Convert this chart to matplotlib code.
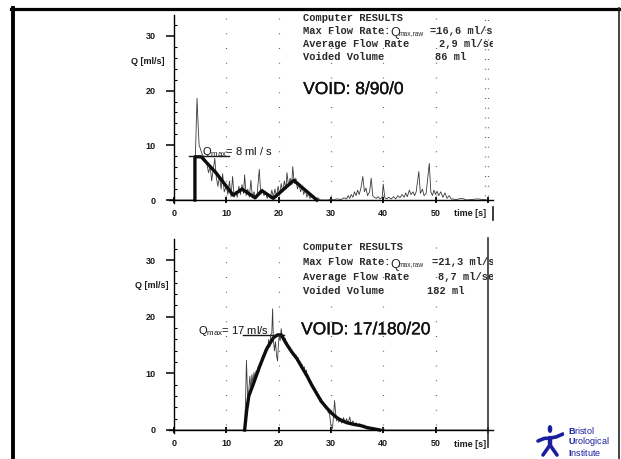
import matplotlib
matplotlib.use("Agg")
import matplotlib.pyplot as plt
import matplotlib.patheffects as pe
from matplotlib.lines import Line2D
from matplotlib.patches import Ellipse

plt.rcParams['font.family'] = ['Liberation Sans', 'DejaVu Sans']
plt.rcParams['mathtext.fontset'] = 'custom'
plt.rcParams['mathtext.rm'] = 'Liberation Sans'
plt.rcParams['mathtext.it'] = 'Liberation Sans'
plt.rcParams['mathtext.bf'] = 'Liberation Sans:bold'
plt.rcParams['mathtext.default'] = 'regular'

# ---- first void (8/90/0) ----
top_raw_t = [0, 3.9, 4.0, 4.2, 4.4, 4.6, 4.8, 5.0, 5.3, 5.6, 6.0, 6.3, 6.6, 6.9, 7.2, 7.5,
             7.8, 8.1, 8.4, 8.7, 9.0, 9.3, 9.6, 10.0, 10.3, 10.6, 10.9, 11.2, 11.5, 11.8,
             12.1, 12.4, 12.7, 13.0, 13.3, 13.5, 13.8, 14.1, 14.4, 14.7, 15.0, 15.3, 15.6,
             15.9, 16.3, 16.6, 16.9, 17.2, 17.5, 17.8, 18.1, 18.4, 18.7, 19.0, 19.3, 19.6,
             19.9, 20.2, 20.5, 20.8, 21.1, 21.4, 21.6, 21.9, 22.2, 22.5, 22.7, 23.0, 23.3,
             23.6, 23.9, 24.2, 24.5, 24.8, 25.1, 25.4, 25.7, 26.0, 26.5, 27.0, 27.5, 28.0,
             29.5, 30.0, 30.5, 31.0, 32.0, 32.5, 33.0, 33.3, 33.6, 33.9, 34.2, 34.5, 34.8,
             35.1, 35.4, 35.7, 36.1, 36.4, 36.7, 37.0, 37.4, 37.7, 38.0, 38.3, 38.7, 39.0,
             39.4, 39.8, 40.0, 40.3, 40.7, 41.0, 41.5, 42.0, 42.4, 42.8, 43.2, 43.6, 44.0,
             44.3, 44.6, 45.0, 45.3, 45.7, 46.0, 46.3, 46.8, 47.1, 47.5, 47.8, 48.2, 48.8,
             49.1, 49.4, 49.7, 50.0, 50.3, 50.6, 51.0, 51.4, 51.8, 52.2, 52.6, 53.0, 54.0,
             55.0, 56.0, 58.0, 60.0]
top_raw_q = [0, 0, 5.0, 12.0, 18.6, 14.0, 10.0, 9.5, 8.6, 8.0, 7.2, 6.5, 5.0, 6.2, 3.5, 5.5,
             7.6, 4.0, 2.5, 4.5, 2.0, 4.8, 1.5, 2.5, 1.0, 3.5, 0.6, 4.3, 0.5, 1.5,
             0.5, 2.5, 1.0, 2.8, 1.2, 4.6, 0.8, 2.0, 0.5, 3.6, 0.4, 1.5, 0.3,
             1.0, 5.6, 1.0, 2.0, 0.8, 1.5, 0.3, 1.0, 0.3, 1.8, 0.5, 2.0, 0.6,
             2.5, 1.0, 3.0, 1.5, 3.5, 2.0, 5.0, 2.5, 4.0, 2.8, 6.1, 3.0, 4.0,
             2.0, 3.0, 1.5, 2.5, 1.0, 2.0, 0.5, 1.2, 0.3, 0.8, 0.2, 0.4, 0.0,
             0.0, 0.2, 0.0, 0.2, 0.1, 0.4, 0.2, 0.8, 0.3, 1.0, 0.5, 1.5, 0.8,
             1.8, 1.0, 2.0, 4.3, 1.5, 2.2, 0.8, 1.5, 4.0, 0.8, 0.5, 0.3, 0.6,
             0.2, 0.5, 2.9, 0.4, 0.2, 0.5, 0.2, 0.6, 0.2, 0.8, 0.4, 1.0, 0.5,
             1.3, 0.6, 1.8, 1.0, 1.5, 0.8, 1.5, 5.2, 1.2, 2.0, 0.8, 1.2, 6.7,
             1.5, 0.8, 1.8, 1.0, 1.6, 0.8, 1.5, 0.5, 1.3, 0.3, 0.8, 0.2, 0.1,
             0.3, 0.0, 0.2, 0.0]
top_fit_t = [4.0, 4.0, 5.2, 8.0, 11.3, 13.0, 15.5, 16.8, 19.0, 22.9, 27.3]
top_fit_q = [0.0, 7.9, 7.9, 5.0, 0.9, 2.0, 0.4, 1.7, 0.3, 3.6, 0.0]
top_qmax = 8
top_qmax_span = [2.9, 10.6]
top_labels = ["Computer RESULTS", "Max Flow Rate:", "Average Flow Rate", "Voided Volume"]
top_values = ["=16,6 ml/sec", "2,9 ml/sec", "86 ml"]
top_void = "VOID: 8/90/0"
top_qmax_text = "= 8 ml / s"

# ---- second void (17/180/20) ----
bot_raw_t = [0, 13.5, 13.7, 13.85, 14.0, 14.15, 14.3, 14.5, 14.7, 14.9, 15.1, 15.3, 15.5,
             15.7, 15.9, 16.1, 16.3, 16.5, 16.7, 16.9, 17.1, 17.3, 17.5, 17.7, 17.9, 18.1,
             18.3, 18.5, 18.7, 18.85, 19.0, 19.2, 19.4, 19.6, 19.8, 19.95, 20.1, 20.3, 20.5,
             20.7, 20.9, 21.1, 21.3, 21.5, 21.7, 21.9, 22.1, 22.3, 22.5, 22.7, 22.9, 23.1,
             23.3, 23.5, 23.7, 23.9, 24.1, 24.3, 24.5, 24.7, 24.9, 25.1, 25.3, 25.5, 25.7,
             25.9, 26.1, 26.3, 26.5, 26.7, 26.9, 27.1, 27.3, 27.5, 27.7, 27.9, 28.1, 28.3,
             28.5, 28.7, 28.9, 29.1, 29.3, 29.5, 29.7, 29.9, 30.1, 30.3, 30.5, 30.7, 30.9,
             31.1, 31.3, 31.5, 31.8, 32.1, 32.4, 32.7, 33.0, 33.3, 33.6, 33.9, 34.2, 34.5,
             34.8, 35.1, 35.5, 35.9, 36.3, 36.7, 37.1, 37.5, 38.0, 38.5, 39.0, 39.5, 40.0,
             40.3, 60.0]
bot_raw_q = [0, 0, 6.0, 12.3, 8.0, 4.5, 7.0, 9.5, 7.2, 9.8, 8.2, 10.2, 8.8,
             10.5, 9.6, 11.2, 10.4, 12.0, 11.4, 13.2, 12.4, 14.0, 13.2, 14.8, 14.0, 16.0,
             14.6, 16.8, 17.2, 21.4, 16.0, 14.0, 15.6, 13.2, 12.2, 15.0, 16.5, 15.8, 17.9,
             16.2, 16.8, 15.6, 16.2, 15.0, 15.4, 14.4, 14.8, 13.8, 14.2, 13.2, 13.6, 12.8,
             13.3, 12.3, 12.8, 11.8, 12.1, 11.0, 11.6, 10.4, 11.2, 9.6, 10.6, 9.2, 9.6,
             8.4, 8.7, 7.8, 8.0, 7.0, 7.3, 6.4, 6.8, 5.8, 6.1, 5.0, 5.6, 4.6,
             5.0, 4.1, 4.4, 3.6, 3.9, 3.0, 3.2, 1.5, 0.2, 0.3, 2.5, 5.2, 3.0,
             1.6, 2.2, 1.4, 1.8, 1.2, 2.2, 1.3, 2.0, 1.2, 2.3, 1.0, 1.6, 0.9,
             1.3, 0.7, 1.1, 0.6, 0.9, 0.4, 0.6, 0.3, 0.4, 0.1, 0.2, 0.0, 0.3,
             0.0, 0.0]
bot_fit_t = [13.5, 13.9, 14.3, 15.2, 16.4, 17.7, 19.0, 19.8, 20.5, 21.5, 22.5, 23.5, 24.5,
             25.4, 26.3, 27.3, 28.2, 29.2, 30.1, 31.1, 32.0, 33.0, 34.3, 35.6, 37.0, 38.8, 39.3]
bot_fit_q = [0.0, 3.5, 6.0, 8.2, 11.3, 14.3, 16.3, 16.8, 16.8, 15.2, 13.8, 12.6, 11.0,
             9.6, 8.0, 6.4, 5.0, 3.9, 3.0, 2.2, 1.7, 1.3, 1.0, 0.8, 0.4, 0.1, 0.0]
bot_qmax = 16.8
bot_qmax_span = [13.2, 21.0]
bot_labels = ["Computer RESULTS", "Max Flow Rate:", "Average Flow Rate", "Voided Volume"]
bot_values = ["=21,3 ml/sec", "8,7 ml/sec", "182 ml"]
bot_void = "VOID: 17/180/20"
bot_qmax_text = "= 17 ml/s"

x_ticks = [0, 10, 20, 30, 40, 50, 60]
x_tick_labels = ["0", "10", "20", "30", "40", "50", ""]
y_ticks = [0, 10, 20, 30]
grid_t = [10, 20, 30, 40, 50]

logo_lines = [r"$\mathbf{B}$ristol", r"$\mathbf{U}$rological", r"$\mathbf{I}$nstitute"]

INK = '#1a1a1a'
MONO = '#2a2a2a'


def draw_panel(ax, raw_t, raw_q, fit_t, fit_q, qmax, span, labels, values, void, qtext, lay):
    ax.set_xlim(-1, 61)
    ax.set_ylim(-1, 34.5)
    for s in ['top', 'right']:
        ax.spines[s].set_visible(False)
    ax.spines['left'].set_position(('data', 0))
    ax.spines['bottom'].set_position(('data', 0))
    ax.spines['left'].set_bounds(-0.6, 33.8)
    ax.spines['left'].set_linewidth(1.0)
    ax.spines['bottom'].set_linewidth(1.0)
    ax.patch.set_visible(False)

    ax.set_xticks(x_ticks)
    ax.set_xticklabels(x_tick_labels)
    ax.set_yticks(y_ticks)
    ax.set_yticks([v for v in range(0, 34, 2) if v % 10], minor=True)
    ax.tick_params(axis='y', which='major', direction='out', length=6, width=1.1,
                   pad=7, labelsize=6.5)
    ax.tick_params(axis='y', which='minor', direction='in', length=2.2, width=0.8)
    ax.tick_params(axis='x', which='major', direction='inout', length=5, width=1.3,
                   pad=4, labelsize=6.5)
    for lab in ax.get_xticklabels() + ax.get_yticklabels():
        lab.set_fontweight('bold')
        lab.set_color(INK)

    # dotted grid columns
    ax.vlines(grid_t, 0.8, 33.6, colors='#666666', linewidth=0.9, linestyles=(0, (0.8, 11)))

    ax.plot(raw_t, raw_q, color='#3a3a3a', lw=0.6)
    ax.plot(fit_t, fit_q, color='#0d0d0d', lw=2.4, solid_joinstyle='round')
    ax.plot(span, [qmax, qmax], color=INK, lw=1.0)

    ax.text(lay['qlab'][0], lay['qlab'][1], 'Q [ml/s]', fontsize=6.5, fontweight='bold',
            ha='center', va='center', color=INK, clip_on=False)
    ax.text(lay['time'][0], lay['time'][1], 'time [s]', fontsize=6.5, fontweight='bold',
            ha='center', va='center', color=INK, clip_on=False)

    # computer results block
    for lab, q in zip(labels, lay['rows']):
        ax.text(24.6, q, lab, family='Liberation Mono', fontweight='bold', fontsize=7.5,
                va='center', color=MONO, clip_on=True)
    q_row = lay['rows'][1]
    ax.text(41.4, q_row - 0.9, 'Q', fontsize=9, va='baseline', color=MONO, clip_on=True)
    ax.text(43.0, q_row - 0.9, 'max,raw', fontsize=4.8, va='baseline', color=MONO, clip_on=True)
    for val, t, q in zip(values, lay['val_t'], lay['rows'][1:]):
        ax.text(t, q, val, family='Liberation Mono', fontweight='bold', fontsize=7.5,
                va='center', color=MONO, clip_on=True)

    ax.text(lay['void'][0], lay['void'][1], void, fontsize=12.5, va='center', color='#111111',
            path_effects=[pe.withStroke(linewidth=0.25, foreground='#111111')])
    ax.text(lay['qmax'][0], lay['qmax'][1], r'$Q_{max}$' + qtext, fontsize=8, va='baseline',
            color='#111111')


fig = plt.figure(figsize=(6.21, 4.59), dpi=100)

ax1 = fig.add_axes([0.27177, 0.55235, 0.52223, 0.42307])
draw_panel(ax1, top_raw_t, top_raw_q, top_fit_t, top_fit_q, top_qmax, top_qmax_span,
           top_labels, top_values, top_void, top_qmax_text,
           {'qlab': (-5.0, 25.4), 'time': (56.6, -2.4), 'rows': [33.3, 30.9, 28.5, 26.1],
            'val_t': [48.9, 50.6, 49.9], 'void': (24.7, 20.2), 'qmax': (5.4, 8.2)})
ax1.vlines([59.4, 60.1], 0.8, 33.6, colors='#666666', linewidth=0.9, linestyles=(0, (0.8, 7)))
ax1.plot([60.9, 60.9], [-1.3, -3.6], color=INK, lw=1.2, clip_on=False)

ax2 = fig.add_axes([0.27177, 0.05085, 0.52223, 0.43782])
draw_panel(ax2, bot_raw_t, bot_raw_q, bot_fit_t, bot_fit_q, bot_qmax, bot_qmax_span,
           bot_labels, bot_values, bot_void, bot_qmax_text,
           {'qlab': (-4.3, 25.6), 'time': (56.6, -2.6), 'rows': [32.4, 29.6, 27.1, 24.6],
            'val_t': [49.3, 50.5, 48.4], 'void': (24.3, 17.7), 'qmax': (4.6, 17.0)})
ax2.plot([60.0, 60.0], [-3.0, 33.9], color='#333333', lw=1.2, clip_on=False)

# page frame
fig.add_artist(Line2D([11 / 621, 620 / 621], [1 - 9 / 459, 1 - 9 / 459], color='black', lw=2.3))
fig.add_artist(Line2D([13 / 621, 13 / 621], [0, 1 - 8 / 459], color='black', lw=2.8))
fig.add_artist(Line2D([618.5 / 621, 618.5 / 621], [0, 1 - 8 / 459], color='#222222', lw=1.2))

# institute logo
blue = '#1b1f9c'
lg = fig.add_axes([536 / 621, 1 - 458 / 459, 28 / 621, 36 / 459])
lg.set_xlim(0, 28)
lg.set_ylim(0, 36)
lg.axis('off')
lg.add_patch(Ellipse((14, 29), 3.2, 6.5, color=blue))
lg.plot([2, 8, 14, 20, 27], [17, 19.5, 20, 21, 24], color=blue, lw=2.6, solid_capstyle='round')
lg.plot([14, 14], [20, 13], color=blue, lw=3.2, solid_capstyle='round')
lg.plot([7, 14, 21], [3, 13, 3], color=blue, lw=2.6, solid_capstyle='round')

for i, line in enumerate(logo_lines):
    fig.text(568 / 621, 1 - (430 + 11 * i) / 459, line, fontsize=6.5, color=blue, va='center')

fig.savefig('out.png', dpi=100)
